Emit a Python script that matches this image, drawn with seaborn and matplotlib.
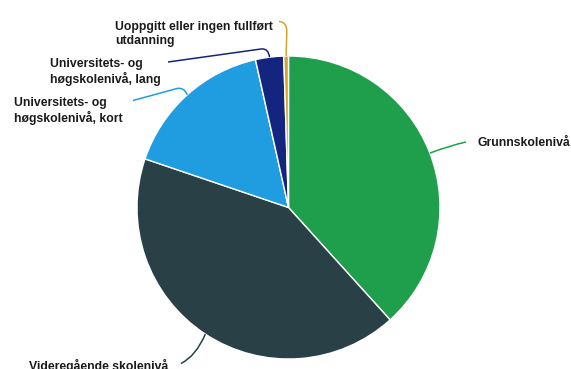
import matplotlib
matplotlib.use("Agg")
import matplotlib.pyplot as plt
from matplotlib.path import Path
from matplotlib.patches import PathPatch
import numpy as np
import seaborn as sns

# Share of population by highest completed education (%)
categories = [
    "Grunnskolenivå",
    "Videregående skolenivå",
    "Universitets- og\nhøgskolenivå, kort",
    "Universitets- og\nhøgskolenivå, lang",
    "Uoppgitt eller ingen fullført\nutdanning",
]
shares = [38.3, 41.9, 16.3, 3.0, 0.5]
colors = ["#1f9e4b", "#294046", "#1f9de0", "#14257f", "#d6a42b"]

sns.set_theme(style="white")
plt.rcParams["font.family"] = ["Liberation Sans", "DejaVu Sans"]

W, H, DPI = 571, 369, 100
CX, CY, R = 288.5, 207.5, 151.5


def px(x, y):
    """Pixel position (from top-left) to data coordinates with unit pie radius."""
    return (x - CX) / R, (CY - y) / R


fig = plt.figure(figsize=(W / DPI, H / DPI), dpi=DPI)
ax = fig.add_axes([0, 0, 1, 1])

wedges, _ = ax.pie(
    shares, colors=colors, startangle=90, counterclock=False, radius=1.0,
    wedgeprops=dict(edgecolor="white", linewidth=1.0),
)
ax.set_aspect("auto")
ax.set_xlim(px(0, 0)[0], px(W, 0)[0])
ax.set_ylim(px(0, H)[1], px(0, 0)[1])
ax.axis("off")

# connector routes (pixels) after the wedge edge point, and label placement
routes = [
    dict(path=[("c", (450, 145.5)), ("e", (466, 142))],
         text=(477, 143), ha="left"),
    dict(path=[("c", (196, 356)), ("e", (181, 363.5))],
         text=(168, 366), ha="right"),
    dict(path=[("c", (184, 87)), ("e", (177, 88.5)), ("l", (133, 100.5))],
         text=(14, 111), ha="left"),
    dict(path=[("c", (268.5, 48)), ("e", (261, 49)), ("l", (168, 62))],
         text=(50, 72), ha="left"),
    dict(path=[("l", (286.8, 31)), ("c", (286.8, 22)), ("e", (279, 21.5))],
         text=(115, 34), ha="left"),
]

for w, color, label, rt in zip(wedges, colors, categories, routes):
    mid = np.deg2rad((w.theta1 + w.theta2) / 2)
    start = (np.cos(mid), np.sin(mid))
    verts = [start]
    codes = [Path.MOVETO]
    for kind, p in rt["path"]:
        verts.append(px(*p))
        if kind == "l":
            codes.append(Path.LINETO)
        else:
            codes.append(Path.CURVE3)
    ax.add_patch(PathPatch(Path(verts, codes), facecolor="none",
                           edgecolor=color, linewidth=1.1, zorder=3))
    tx, ty = px(*rt["text"])
    ax.text(tx, ty, label, ha=rt["ha"], va="center", fontsize=8.8,
            fontweight="bold", color="#1b1b1b", linespacing=1.25)

fig.savefig("out.png", dpi=DPI, facecolor="white")
